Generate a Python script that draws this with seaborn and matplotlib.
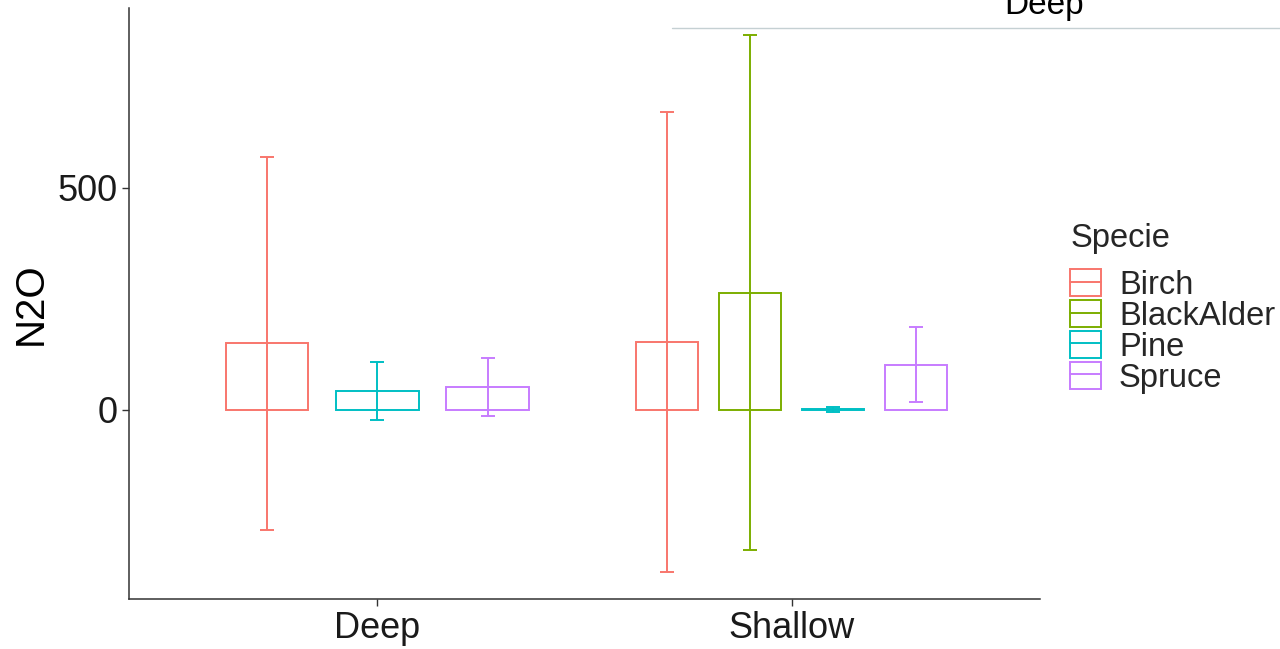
import matplotlib
matplotlib.use('Agg')
import matplotlib.pyplot as plt
from matplotlib.lines import Line2D
from matplotlib.patches import Patch
from matplotlib.legend_handler import HandlerTuple
import seaborn as sns
import pandas as pd

# Data (bar = mean, whisker = +/- error)
groups = ['Deep', 'Shallow']
species = ['Birch', 'BlackAlder', 'Pine', 'Spruce']

deep_species = ['Birch', 'Pine', 'Spruce']
deep_mean = [150, 43, 52]
deep_err = [420, 65, 65]

shallow_species = ['Birch', 'BlackAlder', 'Pine', 'Spruce']
shallow_mean = [153, 264, 1, 102]
shallow_err = [518, 580, 5, 84]

colors = ['#F8766D', '#7CAE00', '#00BFC4', '#C77CFF']
pal = dict(zip(species, colors))

sns.set_style('ticks')
plt.rcParams['font.family'] = ['Liberation Sans', 'DejaVu Sans']

fig = plt.figure(figsize=(12.8, 6.49), dpi=100)
ax = fig.add_axes([0.1008, 0.077, 0.7117, 0.9107])

subsets = [
    ('Deep', deep_species, deep_mean, deep_err),
    ('Shallow', shallow_species, shallow_mean, shallow_err),
]
for grp, sp, mean, err in subsets:
    df = pd.DataFrame({'Depth': grp, 'Specie': sp, 'N2O': mean, 'err': err})
    before = len(ax.patches)
    sns.barplot(data=df, x='Depth', y='N2O', hue='Specie', order=groups,
                hue_order=sp, palette=pal, fill=False, width=0.8, gap=0.25,
                errorbar=None, legend=False, linewidth=1.4, ax=ax)
    new = sorted(ax.patches[before:], key=lambda p: p.get_x())
    for p, s, m, e in zip(new, sp, mean, err):
        ax.errorbar(p.get_x() + p.get_width() / 2, m, yerr=e, color=pal[s],
                    capsize=4.7, capthick=1.4, elinewidth=1.4, fmt='none')

ax.set_xlim(-0.6, 1.6)
ax.set_ylim(-426, 905)
ax.set_yticks([0, 500])
ax.set_xlabel('')
ax.set_ylabel('N2O', fontsize=29, color='black', labelpad=5)
ax.tick_params(axis='both', labelsize=26, colors='#333333', length=5,
               width=1, labelcolor='#1a1a1a')
sns.despine(ax=ax)
for s in ['left', 'bottom']:
    ax.spines[s].set_color('#333333')
    ax.spines[s].set_linewidth(1.1)

handles = [(Patch(facecolor='none', edgecolor=c, linewidth=1.4),
            Line2D([], [], color=c, linewidth=1.4)) for c in colors]
leg = fig.legend(handles, species, title='Specie', loc='center left',
                 bbox_to_anchor=(0.836, 0.525), frameon=False, fontsize=23.5,
                 title_fontsize=23.5, handler_map={tuple: HandlerTuple(ndivide=1)},
                 handlelength=0.95, handleheight=0.9, handletextpad=0.55,
                 labelspacing=-0.03, borderpad=0, borderaxespad=0, alignment='left')
leg._legend_box.sep = 11  # gap between title and keys

# stray overlay at the top right of the source image
fig.add_artist(Line2D([0.525, 1.0], [0.9568, 0.9568], color='#c5d0d3',
                      linewidth=1, transform=fig.transFigure))
fig.text(0.816, 0.978, 'Deep', fontsize=24, ha='center', va='baseline', color='black')

fig.savefig('out.png', dpi=100)
